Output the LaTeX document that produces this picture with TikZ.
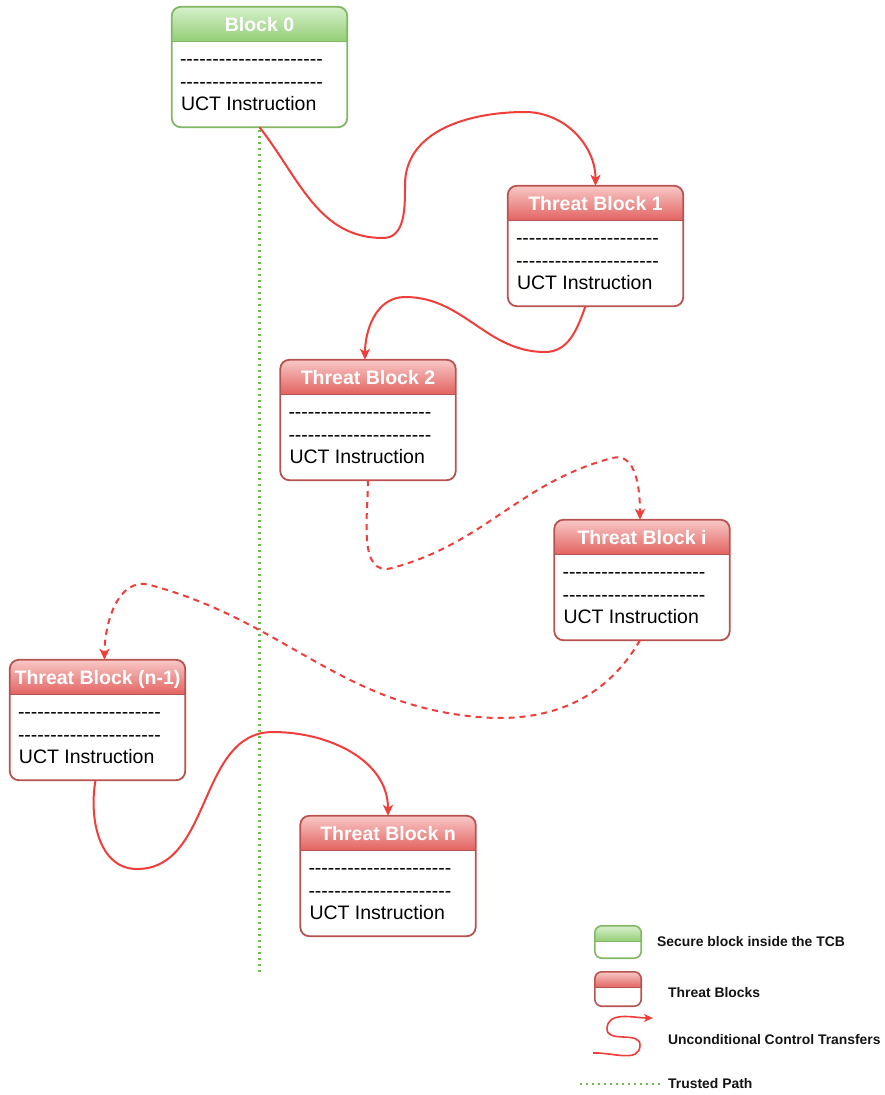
\documentclass[tikz,border=0pt]{standalone}
\usepackage{fontspec}
\setmainfont{Liberation Sans}
\usetikzlibrary{arrows.meta}

\definecolor{gtop}{RGB}{214,240,204}
\definecolor{gbot}{RGB}{146,205,116}
\definecolor{gborder}{RGB}{130,184,100}
\definecolor{rtop}{RGB}{248,200,198}
\definecolor{rbot}{RGB}{226,98,96}
\definecolor{rborder}{RGB}{184,84,80}
\definecolor{flow}{RGB}{240,62,58}
\definecolor{trust}{RGB}{108,190,72}
\definecolor{legendtext}{RGB}{20,20,20}

% a row of 22 hyphens, kept apart so they are not joined into dashes
\newcommand\hy{-\kern0pt}
\newcommand\hyrow{\hy\hy\hy\hy\hy\hy\hy\hy\hy\hy\hy\hy\hy\hy\hy\hy\hy\hy\hy\hy\hy\hy}

\tikzset{
  blockframe/.style={rectangle, minimum width=175pt, minimum height=120pt, inner sep=0pt},
  headtext/.style={text=white, font=\fontsize{19.5}{22}\selectfont\bfseries, inner sep=0pt},
  bodytext/.style={text=black, font=\fontsize{19.5}{22}\selectfont, inner sep=0pt, anchor=base west},
  legendtxt/.style={text=legendtext, font=\fontsize{13.9}{16}\selectfont\bfseries, inner sep=0pt, anchor=west},
  transfer/.style={draw=flow, line width=2pt, -{Stealth[length=11pt,width=10pt,inset=3pt]}},
  maybe/.style={transfer, dash pattern=on 6pt off 5pt},
  trusted/.style={draw=trust, line width=2.4pt, dash pattern=on 2.4pt off 3.6pt},
}

% #1 name, #2 x of centre, #3 y of top edge, #4 title, #5 colour scheme (g or r)
\newcommand\codeblock[5]{%
  \node[blockframe] (#1) at (#2,#3-60) {};
  \fill[white, rounded corners=9pt] (#1.north west) rectangle (#1.south east);
  \begin{scope}
    \clip[rounded corners=9pt] (#1.north west) rectangle (#1.south east);
    \shade[top color=#5top, bottom color=#5bot] (#1.north west) rectangle ([yshift=-35pt]#1.north east);
  \end{scope}
  \draw[#5border, line width=1.3pt] ([yshift=-35pt]#1.north west) -- ([yshift=-35pt]#1.north east);
  \draw[#5border, line width=1.8pt, rounded corners=9pt] (#1.north west) rectangle (#1.south east);
  \node[headtext, anchor=base] (#1-title) at ([yshift=-24.5pt]#1.north) {#4};
  \node[bodytext] (#1-d1) at ([xshift=8pt,yshift=-59pt]#1.north west) {\hyrow};
  \node[bodytext] (#1-d2) at ([xshift=8pt,yshift=-82pt]#1.north west) {\hyrow};
  \node[bodytext] (#1-uct) at ([xshift=9pt,yshift=-104pt]#1.north west) {UCT Instruction};
}

% small legend swatch: #1 name, #2 centre, #3 height, #4 scheme
\newcommand\swatch[4]{%
  \node[rectangle, minimum width=46pt, minimum height=#3, inner sep=0pt] (#1) at (#2) {};
  \fill[white, rounded corners=7pt] (#1.north west) rectangle (#1.south east);
  \begin{scope}
    \clip[rounded corners=7pt] (#1.north west) rectangle (#1.south east);
    \shade[top color=#4top, bottom color=#4bot] (#1.north west) rectangle ([yshift=-16pt]#1.north east);
  \end{scope}
  \draw[#4border, line width=1pt] ([yshift=-16pt]#1.north west) -- ([yshift=-16pt]#1.north east);
  \draw[#4border, line width=1.6pt, rounded corners=7pt] (#1.north west) rectangle (#1.south east);
}

\begin{document}
\begin{tikzpicture}[x=1pt,y=1pt]
  \fill[white] (0,0) rectangle (885,-1095);
  \useasboundingbox (0,0) rectangle (885,-1095);

  % trusted path below the secure block
  \coordinate (trustend) at (259.5,-972);
  \draw[trusted] (259.5,-130) -- (trustend);

  % code blocks
  \codeblock{b0}{259.5}{-7}{Block 0}{g}
  \codeblock{t1}{595.5}{-186}{Threat Block 1}{r}
  \codeblock{t2}{368}{-360}{Threat Block 2}{r}
  \codeblock{ti}{642}{-520}{Threat Block i}{r}
  \codeblock{tn1}{97.5}{-660}{Threat Block (n-1)}{r}
  \codeblock{tn}{388}{-816}{Threat Block n}{r}

  % unconditional control transfers
  \draw[transfer] (b0.south) to[out=-52,in=180] (383,-238)
      to[out=0,in=-90] (405,-185) to[out=90,in=180] (525,-112)
      to[out=0,in=90] (t1.north);
  \draw[transfer] ([xshift=-10pt]t1.south) to[out=-110,in=0] (545,-352)
      to[out=180,in=0] (405,-297) to[out=180,in=90] ([xshift=-3pt]t2.north);
  \draw[maybe] (t2.south) to[out=-90,in=195] (392,-568)
      to[out=15,in=195] (612,-458) to[out=15,in=90] ([xshift=-2pt]ti.north);
  \draw[maybe] ([xshift=-2pt]ti.south) to[out=-120,in=-5] (478,-717)
      to[out=175,in=-15] (150,-585) to[out=165,in=90] ([xshift=7pt]tn1.north);
  \draw[transfer] ([xshift=-2pt]tn1.south) to[out=-100,in=180] (137,-869)
      to[out=0,in=180] (273,-732) to[out=0,in=90] (tn.north);

  % legend
  \swatch{lg}{618,-942}{32pt}{g}
  \swatch{lr}{618,-989}{34pt}{r}
  \coordinate (ls) at (593,-1053);
  \coordinate (le) at (653,-1018);
  \draw[transfer, line width=1.6pt, -{Stealth[length=9pt,width=8pt,inset=2.5pt]}]
      (ls) to[out=3,in=-90] (640,-1045) to[out=90,in=-90] (607,-1029)
      to[out=90,in=180] (le);
  \coordinate (dl) at (580,-1084);
  \coordinate (dr) at (660,-1084);
  \draw[trusted, line width=2pt] (dl) -- (dr);

  \node[legendtxt] (lgt) at (657,-942) {Secure block inside the TCB};
  \node[legendtxt] (lrt) at (668,-993) {Threat Blocks};
  \node[legendtxt] (lct) at (668,-1040) {Unconditional Control Transfers};
  \node[legendtxt] (ltt) at (668,-1084) {Trusted Path};
\end{tikzpicture}
\end{document}
